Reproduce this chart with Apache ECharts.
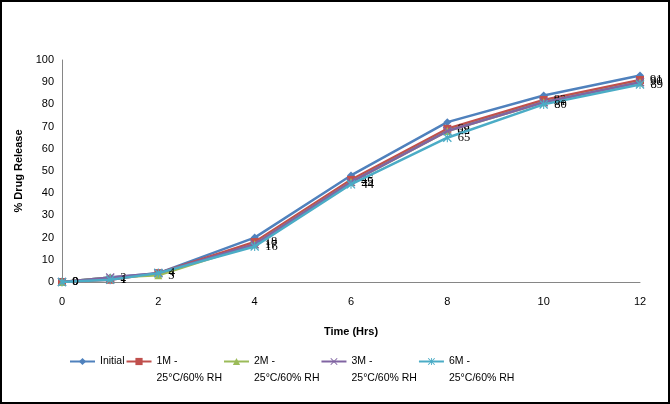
<!DOCTYPE html>
<html>
<head>
<meta charset="utf-8">
<script src="https://cdn.jsdelivr.net/npm/echarts@6/dist/echarts.min.js"></script>
<style>
html,body{margin:0;padding:0;background:#fff;}
#frame{width:670px;height:404px;box-sizing:border-box;border:2px solid #000;position:relative;}
#chart{position:absolute;left:-2px;top:-2px;width:670px;height:404px;}
</style>
</head>
<body>
<div id="frame"><div id="chart"></div></div>
<script>
const timeHrs = [0, 1, 2, 4, 6, 8, 10, 12];
const seriesNames = ['Initial', '1M - 25°C/60% RH', '2M - 25°C/60% RH', '3M - 25°C/60% RH', '6M - 25°C/60% RH'];
const initialVals = [0, 2, 4, 20, 48, 72, 84, 93];
const m1Vals = [0, 1, 4, 18, 46, 69, 82, 91];
const m2Vals = [0, 2, 3, 17, 45, 68, 81, 90];
const m3Vals = [0, 2, 4, 17, 45, 68, 81, 90];
const m6Vals = [0, 1, 4, 16, 44, 65, 80, 89];
const xTicks = [0, 2, 4, 6, 8, 10, 12];
const yTicks = [0, 10, 20, 30, 40, 50, 60, 70, 80, 90, 100];

const colors = ['#4F81BD', '#C0504D', '#9BBB59', '#8064A2', '#4BACC6'];
const symbols = [
  'diamond',
  'rect',
  'triangle',
  'path://M0,1 L1,0 L10,9 L9,10 Z M9,0 L10,1 L1,10 L0,9 Z',
  'path://M0,1 L1,0 L10,9 L9,10 Z M9,0 L10,1 L1,10 L0,9 Z M4.4,0 L5.6,0 L5.6,10 L4.4,10 Z'
];
const symbolSizes = [8, 8, 8, 9, 9];
const valuesList = [initialVals, m1Vals, m2Vals, m3Vals, m6Vals];
const showLabels = [false, true, true, false, true];

const chart = echarts.init(document.getElementById('chart'));
const series = seriesNames.map((name, i) => ({
  name: name,
  type: 'line',
  data: timeHrs.map((t, k) => [t, valuesList[i][k]]),
  symbol: symbols[i],
  symbolSize: symbolSizes[i],
  showAllSymbol: true,
  lineStyle: { color: colors[i], width: 2.5 },
  itemStyle: { color: colors[i], borderWidth: 0 },
  label: {
    show: showLabels[i],
    position: 'right',
    distance: 6,
    color: '#000',
    fontFamily: 'Liberation Serif',
    fontSize: 12.5,
    formatter: p => p.value[1]
  },
  z: 2 + i,
  animation: false
}));

chart.setOption({
  animation: false,
  color: colors,
  grid: { left: 62, right: 30, top: 60, bottom: 122 },
  xAxis: {
    type: 'value',
    min: 0, max: 12, interval: 2,
    name: 'Time (Hrs)',
    nameLocation: 'middle',
    nameGap: 44,
    nameTextStyle: { fontFamily: 'Liberation Sans', fontSize: 11, fontWeight: 'bold', color: '#000' },
    axisLine: { show: true, lineStyle: { color: '#868686', width: 1 } },
    axisTick: { show: false },
    splitLine: { show: false },
    axisLabel: { color: '#000', fontFamily: 'Liberation Sans', fontSize: 11, margin: 14,
      formatter: v => xTicks.includes(v) ? String(v) : '' }
  },
  yAxis: {
    type: 'value',
    min: 0, max: 100, interval: 10,
    name: '% Drug Release',
    nameLocation: 'middle',
    nameGap: 38,
    nameTextStyle: { fontFamily: 'Liberation Sans', fontSize: 11, fontWeight: 'bold', color: '#000' },
    axisLine: { show: true, lineStyle: { color: '#868686', width: 1 } },
    axisTick: { show: false },
    splitLine: { show: false },
    axisLabel: { color: '#000', fontFamily: 'Liberation Sans', fontSize: 11, margin: 8,
      formatter: v => yTicks.includes(v) ? String(v) : '' }
  },
  legend: {
    left: 64,
    top: 331,
    itemWidth: 25,
    itemHeight: 9,
    itemGap: 1,
    data: seriesNames,
    textStyle: { fontFamily: 'Liberation Sans', fontSize: 10.5, color: '#000', lineHeight: 17 },
    formatter: name => {
      if (name === 'Initial') return '\nInitial\n ';
      const parts = name.split(' - ');
      return '\n' + parts[0] + ' -\n' + parts[1];
    }
  },
  series: series
});
</script>
</body>
</html>
